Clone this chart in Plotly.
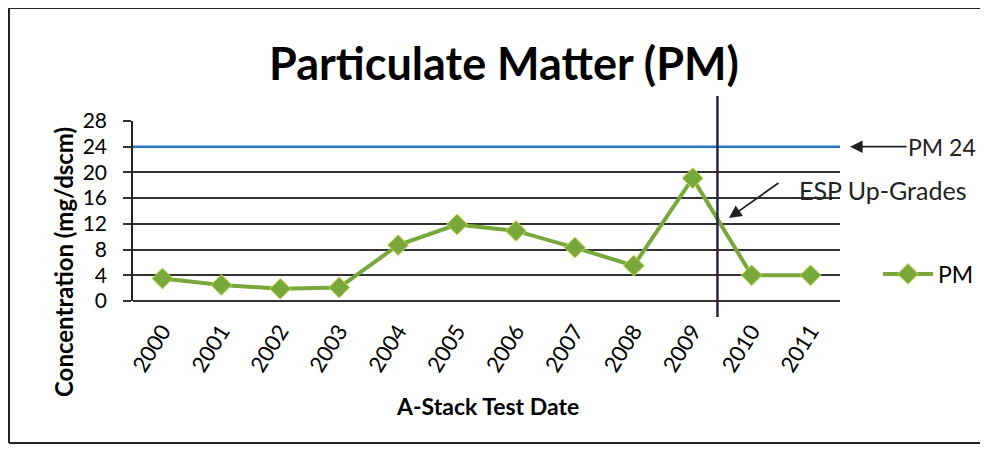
import plotly.graph_objects as go

# ---- data ----
years = [2000, 2001, 2002, 2003, 2004, 2005, 2006, 2007, 2008, 2009, 2010, 2011]
year_labels = [str(y) for y in years]
pm_values = [3.5, 2.5, 1.9, 2.1, 8.7, 11.9, 10.9, 8.3, 5.5, 19.1, 4.0, 4.0]
pm_limit = 24
esp_upgrade_x = 2009.42
y_ticks = [0, 4, 8, 12, 16, 20, 24, 28]

# ---- layout geometry ----
# The page adds an 8px body margin on every side, so the figure is made
# 16px smaller (no scrolling) and reference pixel positions are shifted by 8.
OFF = 8
W, H = 988 - 2 * OFF, 453 - 2 * OFF
# plot area in reference pixels: left 133, right 840, top 121, bottom 301
PL, PR, PT, PB = 133, 840, 121, 301
M_L = PL - OFF
M_T = PT - OFF
M_R = W - (PR - OFF)
M_B = H - (PB - OFF)
PW = PR - PL
PH = PB - PT


def px(x):
    """reference x pixel -> paper"""
    return (x - PL) / PW


def py(y):
    """reference y pixel -> paper"""
    return (PB - y) / PH


FONT = "Lato"
GREEN = "#78a83c"

fig = go.Figure()

fig.add_trace(go.Scatter(
    x=years, y=pm_values, mode="lines+markers", name="PM",
    line=dict(color=GREEN, width=4),
    marker=dict(symbol="diamond", size=16, color=GREEN,
                line=dict(color="#c8d84a", width=1)),
))

FRAME = dict(color="#222", width=2)
shapes = [
    # PM 24 limit line
    dict(type="line", xref="paper", yref="y", x0=0, x1=1, y0=pm_limit, y1=pm_limit,
         line=dict(color="#2a74c4", width=2.5), layer="above"),
    # ESP upgrade vertical line
    dict(type="line", xref="x", yref="paper", x0=esp_upgrade_x, x1=esp_upgrade_x,
         y0=py(317), y1=py(96), line=dict(color="#2b2145", width=2.5), layer="above"),
    # white patches where label box hides gridlines
    dict(type="rect", xref="paper", yref="paper", x0=px(753), x1=px(842), y0=py(176), y1=py(169),
         fillcolor="white", line=dict(width=0), layer="between"),
    dict(type="rect", xref="paper", yref="paper", x0=px(721), x1=px(842), y0=py(202), y1=py(195),
         fillcolor="white", line=dict(width=0), layer="between"),
    # outer frame (left, top, bottom)
    dict(type="line", xref="paper", yref="paper", x0=px(9), x1=px(9), y0=py(443), y1=py(8),
         line=FRAME, layer="above"),
    dict(type="line", xref="paper", yref="paper", x0=px(9), x1=px(995), y0=py(8), y1=py(8),
         line=FRAME, layer="above"),
    dict(type="line", xref="paper", yref="paper", x0=px(9), x1=px(995), y0=py(443), y1=py(443),
         line=FRAME, layer="above"),
]

annotations = [
    # y axis title
    dict(text="<b>Concentration (mg/dscm)</b>", xref="paper", yref="paper",
         x=px(63), y=py(262), xanchor="center", yanchor="middle",
         textangle=-90, showarrow=False,
         font=dict(family=FONT, size=24, color="black")),
    # x axis title
    dict(text="<b>A-Stack Test Date</b>", xref="paper", yref="paper",
         x=px(487), y=py(406), xanchor="center", yanchor="middle", showarrow=False,
         font=dict(family=FONT, size=23, color="black")),
    # PM 24 label with arrow
    dict(text="PM 24", xref="paper", yref="y", x=px(850), y=pm_limit,
         xanchor="center", yanchor="middle",
         ax=92, ay=0, showarrow=True, arrowhead=2, arrowsize=1.4, arrowwidth=1.8,
         arrowcolor="#222", font=dict(family=FONT, size=23, color="#222")),
    # ESP Up-Grades text
    dict(text="ESP Up-Grades", xref="paper", yref="paper", x=px(882), y=py(190),
         xanchor="center", yanchor="middle",
         showarrow=False, font=dict(family=FONT, size=25, color="#222")),
    # ESP arrow
    dict(text="", xref="paper", yref="paper", x=px(729), y=py(218),
         ax=51, ay=-36, showarrow=True, arrowhead=2, arrowsize=1.4, arrowwidth=1.8,
         arrowcolor="#222"),
]

fig.update_layout(
    width=W, height=H,
    margin=dict(l=M_L, r=M_R, t=M_T, b=M_B, autoexpand=False),
    paper_bgcolor="white", plot_bgcolor="white",
    font=dict(family=FONT, color="black"),
    title=dict(text="<b>Particulate Matter (PM)</b>", x=(504 - OFF) / W, xanchor="center",
               y=1 - (64 - OFF) / H, yanchor="middle", yref="container",
               font=dict(family=FONT, size=45, color="black")),
    showlegend=True,
    legend=dict(x=px(878), y=py(274), xanchor="left", yanchor="middle",
                itemwidth=50,
                font=dict(family=FONT, size=23, color="black"),
                bgcolor="rgba(0,0,0,0)"),
    shapes=shapes,
    annotations=annotations,
    xaxis=dict(
        tickmode="array", tickvals=years, ticktext=year_labels,
        range=[years[0] - 0.5, years[-1] + 0.5],
        tickangle=-58, tickfont=dict(family=FONT, size=22, color="black"),
        showgrid=False, zeroline=False, showline=False, ticks="",
        ticklabelstandoff=12,
    ),
    yaxis=dict(
        range=[0, 28], tickvals=y_ticks,
        tickfont=dict(family=FONT, size=21, color="black"),
        showgrid=True, gridcolor="#333", gridwidth=1.6,
        zeroline=True, zerolinecolor="#333", zerolinewidth=1.6,
        showline=True, linecolor="#222", linewidth=1.6,
        ticks="outside", ticklen=8, tickcolor="#333", tickwidth=1.6,
        ticklabelstandoff=12,
    ),
)

fig.write_html("out.html")
